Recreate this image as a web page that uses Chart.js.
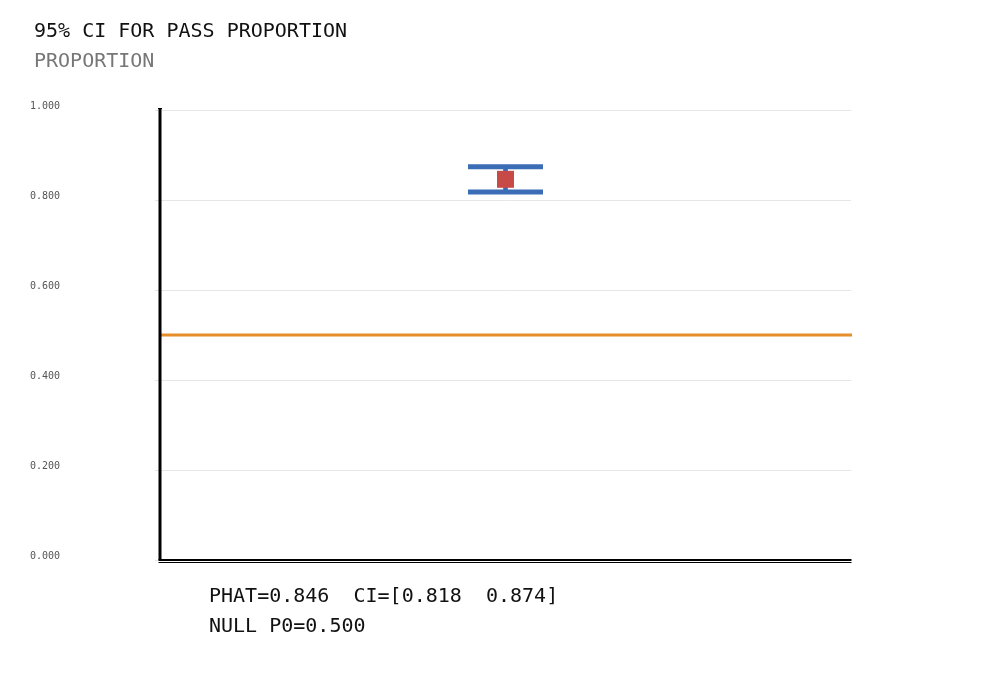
<!DOCTYPE html>
<html><head><meta charset="utf-8">
<script src="https://cdn.jsdelivr.net/npm/chart.js@4/dist/chart.umd.min.js"></script>
<style>html,body{margin:0;padding:0;background:#fff}</style>
</head><body>
<canvas id="c" width="1000" height="700"></canvas>
<script>
const categories = ['PASS'];
const phat = [0.846];
const ciLow = [0.818];
const ciHigh = [0.874];
const nullP0 = 0.5;
const yTicks = [0, 0.2, 0.4, 0.6, 0.8, 1.0];
const titleText = '95% CI FOR PASS PROPORTION';
const subtitleText = 'PROPORTION';
const footerLines = [
  'PHAT=' + phat[0].toFixed(3) + '  CI=[' + ciLow[0].toFixed(3) + '  ' + ciHigh[0].toFixed(3) + ']',
  'NULL P0=' + nullP0.toFixed(3)
];
const MONO = '"DejaVu Sans Mono", "Liberation Mono", monospace';

const decor = {
  id: 'decor',
  beforeDatasetsDraw(chart) {
    const {ctx, chartArea: a, scales: {y}} = chart;
    ctx.save();
    const yp = y.getPixelForValue(nullP0);
    ctx.strokeStyle = '#e58e2a';
    ctx.lineWidth = 3;
    ctx.beginPath(); ctx.moveTo(a.left, yp); ctx.lineTo(a.right + 1, yp); ctx.stroke();
    ctx.restore();
  },
  afterDraw(chart) {
    const {ctx, chartArea: a, scales: {y}} = chart;
    ctx.save();
    ctx.fillStyle = '#000';
    const top = y.getPixelForValue(1);
    const bot = y.getPixelForValue(0);
    ctx.fillRect(a.left - 1.5, top - 2, 3, bot - top + 2);
    ctx.fillRect(a.left - 2, top - 2, 4, 1);
    ctx.fillRect(a.left - 1.5, bot - 1, a.right - a.left + 2, 2);
    ctx.fillRect(a.left - 1.5, bot + 2, a.right - a.left + 2, 1);
    ctx.textBaseline = 'middle';
    ctx.textAlign = 'left';
    ctx.font = '20px ' + MONO;
    ctx.fillStyle = '#111';
    ctx.fillText(titleText, 34, 32);
    ctx.fillStyle = '#777';
    ctx.fillText(subtitleText, 34, 62);
    ctx.fillStyle = '#111';
    footerLines.forEach((t, i) => ctx.fillText(t, 209, 597 + i * 30));
    ctx.restore();
  }
};

new Chart(document.getElementById('c'), {
  type: 'bar',
  data: {
    labels: categories,
    datasets: [
      {
        type: 'bar',
        data: categories.map((c, i) => [ciLow[i], ciHigh[i]]),
        backgroundColor: '#3a6db5',
        barThickness: 4,
        order: 3
      },
      {
        type: 'scatter',
        data: categories.map((c, i) => ({x: c, y: ciLow[i]})),
        pointStyle: 'line',
        radius: 37.5,
        borderWidth: 5,
        borderColor: '#3a6db5',
        order: 2
      },
      {
        type: 'scatter',
        data: categories.map((c, i) => ({x: c, y: ciHigh[i]})),
        pointStyle: 'line',
        radius: 37.5,
        borderWidth: 5,
        borderColor: '#3a6db5',
        order: 2
      },
      {
        type: 'scatter',
        data: categories.map((c, i) => ({x: c, y: phat[i]})),
        pointStyle: 'rect',
        radius: 12,
        borderWidth: 0,
        backgroundColor: '#c84a46',
        borderColor: '#c84a46',
        order: 1
      }
    ]
  },
  options: {
    responsive: false,
    animation: false,
    events: [],
    layout: {padding: {left: 30, top: 110, right: 149, bottom: 132}},
    plugins: {legend: {display: false}, tooltip: {enabled: false}, title: {display: false}},
    scales: {
      x: {
        type: 'category',
        offset: true,
        grid: {display: false},
        border: {display: false},
        ticks: {display: false}
      },
      y: {
        min: 0, max: 1,
        afterFit(s) { s.width = 130; },
        afterBuildTicks(s) { s.ticks = yTicks.map(v => ({value: v})); },
        grid: {color: '#e6e6e6', lineWidth: 1, tickLength: 5},
        border: {display: false},
        ticks: {
          crossAlign: 'far',
          padding: 0,
          labelOffset: -4,
          color: '#555',
          font: {family: MONO, size: 10},
          callback: v => Number(v).toFixed(3)
        }
      }
    }
  },
  plugins: [decor]
});
</script>
</body></html>
